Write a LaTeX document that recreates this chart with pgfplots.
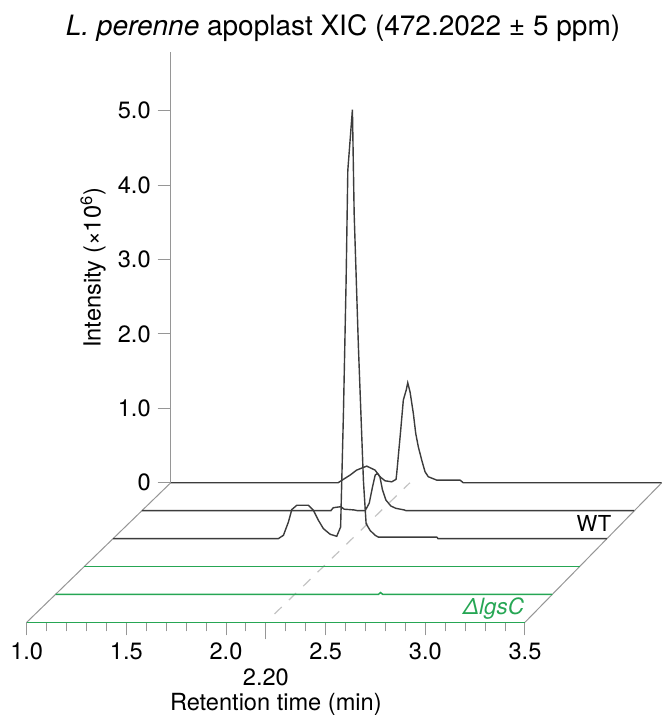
\documentclass[border=0pt]{standalone}
\usepackage{fontspec}
\setmainfont{TeX Gyre Heros}
\usepackage{pgfplots}
\pgfplotsset{compat=1.18}
\usepackage{pgfplotstable}

\definecolor{axisgray}{RGB}{150,150,150}
\definecolor{dashgray}{RGB}{195,195,195}
\definecolor{trace}{RGB}{60,60,60}
\definecolor{mutgreen}{RGB}{38,166,84}

% lane shift (back = 5): 0.1445 min, 0.375 units per lane
\pgfplotstableread{
t      i
1.0    0
3.5    0
}\laneZ
\pgfplotstableread{
t      i
1.0    0
2.620  0
2.631  0.025
2.642  0
3.4925 0
}\laneA
\pgfplotstableread{
t      i
1.0    0
3.485  0
}\laneB
\pgfplotstableread{
t      i
1.0    0
1.8294 0
1.8545 0.044
1.8796 0.223
1.8966 0.39
1.9217 0.448
1.98   0.448
2.005  0.38
2.030  0.246
2.055  0.134
2.089  0.058
2.122  0.031
2.1415 0.156
2.1556 1.68
2.169  3.46
2.1776 4.95
2.2007 5.766
2.2094 4.37
2.2308 2.575
2.2559 0.78
2.2694 0.2
2.2895 0.11
2.3146 0.044
2.331  0.02
2.624  0.02
2.63   0
3.4775 0
}\laneC
\pgfplotstableread{
t      i
1.0    0
1.948  0
1.960  0.04
1.9985 0.054
2.015  0.02
2.065  0.01
2.082  0
2.120  0
2.1405 0.10
2.157  0.32
2.1706 0.48
2.182  0.50
2.194  0.457
2.207  0.28
2.224  0.144
2.249  0.063
2.274  0.032
2.316  0.01
2.325  0
3.47   0
}\laneD
\pgfplotstableread{
t      i
1.0    0
1.8394 0
1.8996 0.103
1.9333 0.171
1.9834 0.224
2.0251 0.171
2.0502 0.081
2.0753 0.027
2.1089 0.013
2.1305 0.046
2.134  0.126
2.154  0.709
2.1671 1.112
2.1816 1.246
2.1892 1.344
2.2008 1.223
2.2173 0.933
2.2293 0.664
2.2423 0.484
2.2594 0.305
2.2760 0.148
2.2925 0.081
2.3347 0.036
2.4516 0.036
2.4681 0
3.4625 0
}\laneE

\begin{document}
\begin{tikzpicture}[font=\fontsize{11.8}{13}\selectfont]
\begin{axis}[
  x=99.65pt, y=37.2pt,
  xmin=1, xmax=3.5, ymin=0, ymax=7.7,
  axis x line=bottom, axis y line=none,
  x axis line style={-, axisgray, line width=0.5pt},
  clip=false,
  xtick={1,1.5,2,2.5,3,3.5},
  xticklabels={1.0,1.5,2.0,2.5,3.0,3.5},
  minor x tick num=4,
  extra x ticks={2.2}, extra x tick labels={2.20},
  extra x tick style={major tick length=8.5pt, xticklabel style={yshift=-11pt}},
  tick align=outside, major tick length=6.5pt, minor tick length=4.5pt,
  tick style={axisgray, line width=0.5pt},
  xlabel={Retention time (min)},
  xlabel style={at={(axis cs:2.25,-1.19)}, anchor=base},
]
\addplot[axisgray, line width=0.5pt] coordinates {(1,0) (1.7225,1.875)};
\addplot[axisgray, line width=0.5pt] coordinates {(3.5,0) (4.186,1.875)};
\addplot[dashgray, line width=0.6pt, dash pattern=on 5pt off 5pt] coordinates {(2.2434,0.1125) (2.9225,1.875)};

\addplot[mutgreen, line width=0.75pt] table[x expr=\thisrow{t}, y expr=\thisrow{i}] {\laneZ};
\addplot[mutgreen, line width=0.75pt] table[x expr=\thisrow{t}+0.1445, y expr=\thisrow{i}+0.375] {\laneA};
\addplot[mutgreen, line width=0.75pt] table[x expr=\thisrow{t}+0.289, y expr=\thisrow{i}+0.75] {\laneB};
\addplot[trace, line width=0.7pt] table[x expr=\thisrow{t}+0.4335, y expr=\thisrow{i}+1.125] {\laneC};
\addplot[trace, line width=0.7pt] table[x expr=\thisrow{t}+0.578, y expr=\thisrow{i}+1.5] {\laneD};
\addplot[trace, line width=0.7pt] table[x expr=\thisrow{t}+0.7225, y expr=\thisrow{i}+1.875] {\laneE};

\node[anchor=base east, inner sep=0pt, font=\fontsize{11}{13}\selectfont] at (axis cs:3.935,1.218) {WT};
\node[anchor=base east, inner sep=0pt, text=mutgreen, font=\fontsize{11.2}{13}\selectfont\itshape] at (axis cs:3.497,0.1075) {ΔlgsC};
\node[anchor=base, inner sep=0pt, font=\fontsize{14}{16}\selectfont] at (axis cs:2.587,7.885) {\textit{L. perenne} apoplast XIC (472.2022 ± 5 ppm)};

\coordinate (borig) at (axis cs:1.7225,1.875);
\coordinate (bbsw) at (axis cs:0.866,-1.246);
\coordinate (bbne) at (axis cs:4.1877,8.364);
\end{axis}

\begin{axis}[
  at={(borig)}, anchor=south west,
  x=99.65pt, y=37.2pt,
  xmin=1, xmax=1.5, ymin=0, ymax=5.785,
  axis x line=none, axis y line=left,
  y axis line style={-, axisgray, line width=0.5pt},
  clip=false,
  ytick={0,1,2,3,4,5},
  yticklabels={0,1.0,2.0,3.0,4.0,5.0},
  tick align=outside, major tick length=6.5pt,
  tick style={axisgray, line width=0.5pt},
]
\node[rotate=90, anchor=center] at ([xshift=-38.8pt]axis cs:1,2.89) {Intensity (×10\textsuperscript{6})};
\end{axis}
\pgfresetboundingbox
\path[use as bounding box] (bbsw) rectangle (bbne);
\end{tikzpicture}
\end{document}
